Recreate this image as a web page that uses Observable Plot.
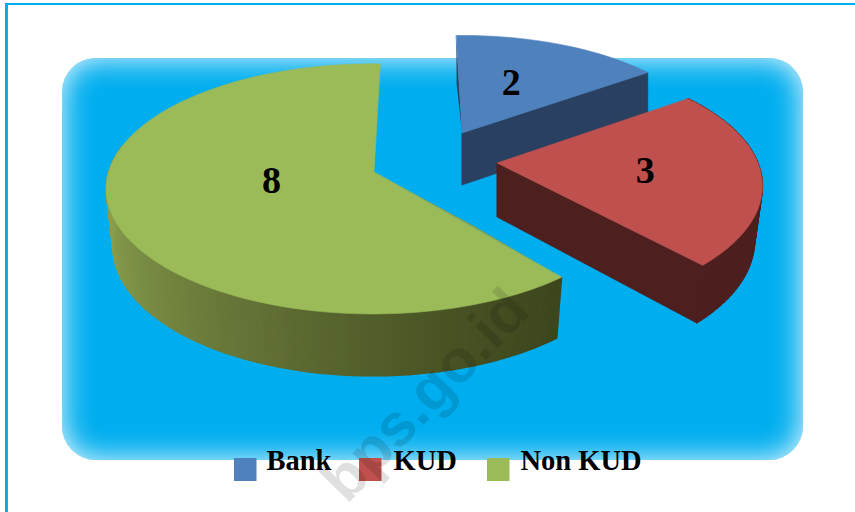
<!DOCTYPE html>
<html>
<head>
<meta charset="utf-8">
<script src="https://cdn.jsdelivr.net/npm/d3@7"></script>
<script src="https://cdn.jsdelivr.net/npm/@observablehq/plot@0.6"></script>
<style>
html,body{margin:0;padding:0;background:#fff;width:855px;height:512px;overflow:hidden}
#frame{position:absolute;left:5px;top:3px;width:860px;height:520px;border-left:3px solid #00aeef;border-top:2px solid #00aeef}
#panel{position:absolute;left:62px;top:58px;width:741px;height:402px;border-radius:34px;background:#00aeef;box-shadow:inset 0 0 30px 0 rgba(255,255,255,.95)}
#chart{position:absolute;left:0;top:0}
</style>
</head>
<body>
<div id="frame"></div>
<div id="panel"></div>
<div id="chart"></div>
<script>
// Data
const categories = ["Bank", "KUD", "Non KUD"];
const values = [2, 3, 8];

// Styling
const topColors = ["#4f81bd", "#c0504d", "#9bbb59"];
const sideColors = ["#2a4060", "#4d1f1f", "#879c4e"];
const rimLight = "#8ba04f", rimDark = "#3d461d";

// Layout of the exploded, tilted pie (per slice, in order of categories)
const apexX = [462, 497, 374], apexY = [133, 163, 172];
const sliceScale = [0.93, 0.985, 0.99];
const sliceScaleY = [0.96, 1.01, 1.0];
const sliceTurn = [-1.5, -3.5, 1.8];
const sliceDepth = [52, 54, 57];
const rimShiftX = [0, 0, -1], rimShiftY = [0, 6, 0];
const bottomXScale = [1, 0.97, 0.975];
const labelFrac = [0.53, 0.56, 0.39];
const labelTurn = [-3, 0, 9.5];
const sliver = [-2.5, 0, 4];
const radiusX = 267, radiusY = 124, tilt = 0.135, bottomYScale = 1.035;
const legendX = [234, 359, 487], legendTextX = [266, 393, 520];

const pie = d3.pie().sort(null).startAngle(0).endAngle(2 * Math.PI)(values);
const rad = d => d * Math.PI / 180;
const deg = r => r * 180 / Math.PI;

function project(i, angle, frac = 1, bottom = false) {
  const t = rad(angle), p = 1 / (1 + tilt * frac * Math.cos(t));
  let dx = radiusX * sliceScale[i] * frac * Math.sin(t) * p + rimShiftX[i] * frac;
  let dy = -radiusY * sliceScale[i] * sliceScaleY[i] * frac * Math.cos(t) * p + rimShiftY[i] * frac;
  if (bottom) { dx *= bottomXScale[i]; dy = dy * bottomYScale + sliceDepth[i]; }
  return [apexX[i] + dx, apexY[i] + dy];
}

const tops = [], faces = [], rims = [], slivers = [], labels = [];
pie.forEach((a, i) => {
  const from = deg(a.startAngle) + sliceTurn[i], to = deg(a.endAngle) + sliceTurn[i];
  const n = Math.ceil((to - from) / 1.5);
  const thetas = d3.range(n + 1).map(k => from + (to - from) * k / n);
  // top face
  for (const th of thetas) {
    const [x, y] = project(i, th);
    tops.push({id: i, x1: x, y1: y, x2: apexX[i], y2: apexY[i], fill: topColors[i]});
  }
  // rim, one strip per step so that the green side can shade along x
  if (i > 0) thetas.slice(0, -1).forEach((th, k) => {
    if (i === 2 && Math.cos(rad(th)) > 0.2) return; // far side of the big slice is hidden
    const th2 = thetas[k + 1];
    const [ax, ay] = project(i, th), [bx, by] = project(i, th, 1, true);
    const [cx, cy] = project(i, th2), [dx, dy] = project(i, th2, 1, true);
    const t = Math.pow(Math.max(0, Math.min(1, (ax - 105) / 455)), 0.6);
    const f = i === 2 ? d3.interpolateRgb(rimLight, rimDark)(t) : sideColors[i];
    const id = `${i}-${k}`;
    rims.push({id, x1: ax, y1: ay, x2: bx, y2: by, fill: f});
    rims.push({id, x1: cx, y1: cy, x2: dx, y2: dy, fill: f});
  });
  // cut face along the slice's closing edge
  if (i < 2) for (const frac of [0, 1]) {
    const [x1, y1] = project(i, to, frac), [x2, y2] = project(i, to, frac, true);
    faces.push({id: i, x1, y1, x2, y2, fill: sideColors[i]});
  }
  // thin side sliver along the opening edge
  if (sliver[i]) {
    const [rx, ry] = project(i, from);
    const mx = (rx + apexX[i]) / 2 + sliver[i], my = (ry + apexY[i]) / 2;
    slivers.push({id: i, x: rx, y: ry, x0: rx, y0: ry, fill: sideColors[i]});
    slivers.push({id: i, x: mx, y: my, x0: (rx + apexX[i]) / 2, y0: my, fill: sideColors[i]});
    slivers.push({id: i, x: apexX[i], y: apexY[i], x0: apexX[i], y0: apexY[i], fill: sideColors[i]});
  }
  const [lx, ly] = project(i, (from + to) / 2 + labelTurn[i], labelFrac[i]);
  labels.push({x: lx, y: ly, text: String(values[i])});
});

const legend = categories.map((c, i) => ({c, x1: legendX[i], x2: legendX[i] + 22.5, tx: legendTextX[i], fill: topColors[i]}));

const area = (rows, sw = 0.6) => Plot.area(rows, {
  x1: "x1", y1: "y1", x2: "x2", y2: "y2", z: "id", fill: "fill",
  stroke: "fill", strokeWidth: sw
});

const chart = Plot.plot({
  width: 855, height: 512,
  margin: 0, marginTop: 0, marginRight: 0, marginBottom: 0, marginLeft: 0,
  x: {domain: [0, 855], range: [0, 855], axis: null},
  y: {domain: [0, 512], range: [0, 512], axis: null},
  color: {type: "identity"},
  style: {background: "transparent"},
  marks: [
    // slices are drawn back to front
    ...[0, 1, 2].flatMap(i => [
      Plot.area(slivers.filter(d => d.id === i), {
        x1: "x", y1: "y", x2: "x0", y2: "y0", z: "id", fill: "fill"
      }),
      area(faces.filter(d => d.id === i)),
      area(rims.filter(d => d.id.startsWith(i + "-")), 1.4),
      area(tops.filter(d => d.id === i))
    ]),
    Plot.text(labels, {
      x: "x", y: "y", text: "text", fontSize: 38, fontWeight: "bold",
      fontFamily: "Liberation Serif", fill: "black"
    }),
    Plot.rect(legend, {x1: "x1", x2: "x2", y1: () => 458, y2: () => 481, fill: "fill"}),
    Plot.text(["bps.go.id"], {
      x: () => 425, y: () => 395, text: d => d, rotate: -46, fontSize: 60,
      fontWeight: "bold", fontFamily: "Liberation Sans", fill: "black", fillOpacity: 0.12
    }),
    Plot.text(legend, {
      x: "tx", y: () => 460, text: "c", textAnchor: "start", fontSize: 28.5,
      fontWeight: "bold", fontFamily: "Liberation Serif", fill: "black"
    })
  ]
});
document.getElementById("chart").appendChild(chart);
</script>
</body>
</html>
